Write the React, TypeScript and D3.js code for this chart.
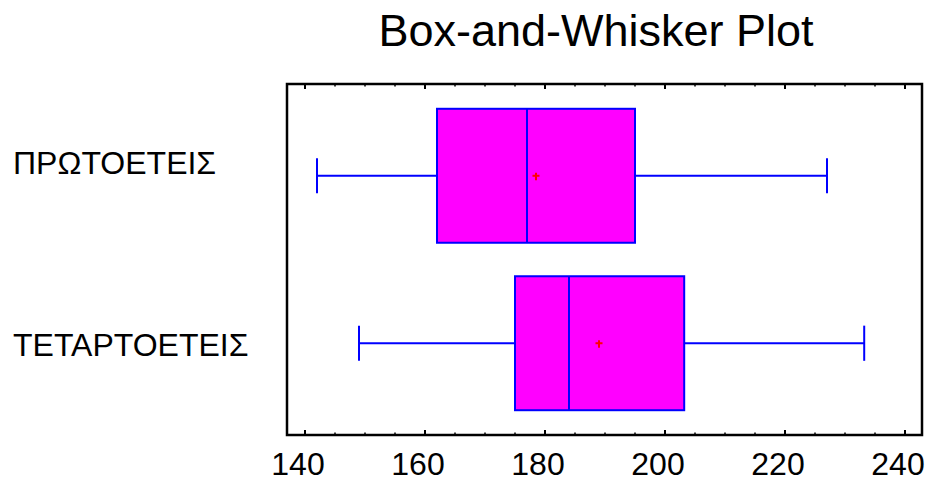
import React from 'react';
import * as d3 from 'd3';

// chart data
const groups = ['ΠΡΩΤΟΕΤΕΙΣ', 'ΤΕΤΑΡΤΟΕΤΕΙΣ'];
const mins = [142, 149];
const q1s = [162, 175];
const medians = [177, 184];
const q3s = [195, 203.2];
const maxs = [227, 233.2];
const means = [178.5, 189];
const tickValues = [140, 160, 180, 200, 220, 240];
const title = 'Box-and-Whisker Plot';

const W = 926;
const H = 481;
const frame = { left: 287, top: 84, right: 922, bottom: 435 };
const FONT = 'Arial, "Liberation Sans", sans-serif';

export default function App() {
  const x = d3.scaleLinear().domain([140, 240]).range([305, 905]);
  const y = d3.scalePoint<string>().domain(groups).range([frame.top, frame.bottom]).padding(0.548);
  const step = y.step();
  const boxH = step * 0.8;
  const capH = step * 0.21;
  const labelShift = [-2, 13];

  const minorTicks = d3.range(140, 241, 5).filter(v => v % 20 !== 0);

  const data = groups.map((g, i) => ({
    g,
    min: mins[i],
    q1: q1s[i],
    med: medians[i],
    q3: q3s[i],
    max: maxs[i],
    mean: means[i]
  }));

  return (
    <svg width={W} height={H} style={{ position: 'absolute', left: 0, top: 0, background: '#fff' }}>
      <text x={596} y={46} textAnchor="middle" fontFamily={FONT} fontSize={45} fill="#000">
        {title}
      </text>

      {/* boxes */}
      {data.map(d => {
        const cy = y(d.g) as number;
        return (
          <g key={d.g}>
            <line x1={x(d.min)} x2={x(d.q1)} y1={cy} y2={cy} stroke="#0000ff" strokeWidth={2} />
            <line x1={x(d.q3)} x2={x(d.max)} y1={cy} y2={cy} stroke="#0000ff" strokeWidth={2} />
            <line x1={x(d.min)} x2={x(d.min)} y1={cy - capH / 2} y2={cy + capH / 2} stroke="#0000ff" strokeWidth={2} />
            <line x1={x(d.max)} x2={x(d.max)} y1={cy - capH / 2} y2={cy + capH / 2} stroke="#0000ff" strokeWidth={2} />
            <rect
              x={x(d.q1)}
              y={cy - boxH / 2}
              width={x(d.q3) - x(d.q1)}
              height={boxH}
              fill="#ff00ff"
              stroke="#0000ff"
              strokeWidth={2}
            />
            <line x1={x(d.med)} x2={x(d.med)} y1={cy - boxH / 2} y2={cy + boxH / 2} stroke="#0000ff" strokeWidth={2} />
            <line x1={x(d.mean) - 3.5} x2={x(d.mean) + 3.5} y1={cy} y2={cy} stroke="#ff0000" strokeWidth={2} />
            <line x1={x(d.mean)} x2={x(d.mean)} y1={cy - 3} y2={cy + 4.5} stroke="#ff0000" strokeWidth={2} />
          </g>
        );
      })}

      {/* frame */}
      <rect
        x={frame.left}
        y={frame.top}
        width={frame.right - frame.left}
        height={frame.bottom - frame.top}
        fill="none"
        stroke="#000"
        strokeWidth={2.5}
      />

      {/* ticks, inward on top and bottom */}
      {tickValues.map(v => (
        <g key={'M' + v}>
          <line x1={x(v)} x2={x(v)} y1={frame.bottom} y2={frame.bottom - 5} stroke="#000" strokeWidth={2} />
          <line x1={x(v)} x2={x(v)} y1={frame.top} y2={frame.top + 5} stroke="#000" strokeWidth={2} />
          <text x={x(v) - 7} y={475} textAnchor="middle" fontFamily={FONT} fontSize={32} fill="#000">
            {v}
          </text>
        </g>
      ))}
      {minorTicks.map(v => (
        <g key={'m' + v}>
          <line x1={x(v)} x2={x(v)} y1={frame.bottom} y2={frame.bottom - 2.5} stroke="#000" strokeWidth={1.5} />
          <line x1={x(v)} x2={x(v)} y1={frame.top} y2={frame.top + 2.5} stroke="#000" strokeWidth={1.5} />
        </g>
      ))}

      {/* category labels */}
      {groups.map((g, i) => (
        <text key={g} x={13} y={(y(g) as number) + labelShift[i]} fontFamily={FONT} fontSize={32} fill="#000">
          {g}
        </text>
      ))}
    </svg>
  );
}
